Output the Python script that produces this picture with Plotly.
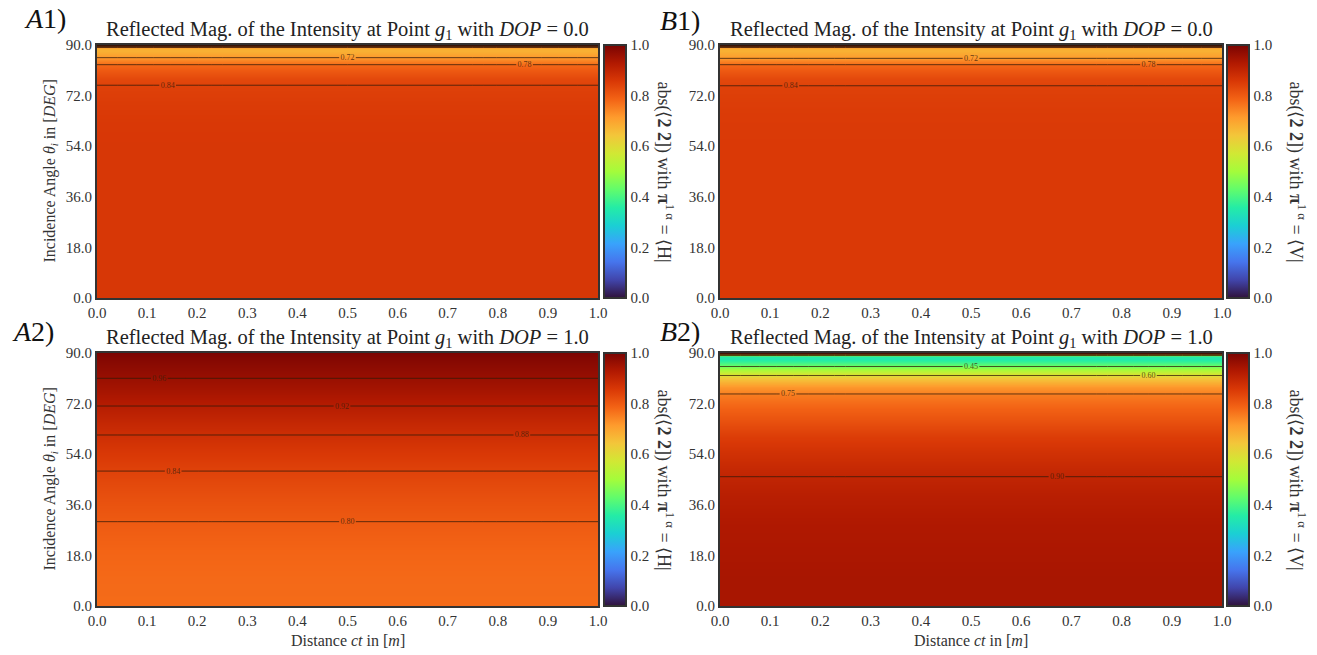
import plotly.graph_objects as go

# ---- data ----
distance = [0.0, 0.25, 0.5, 0.75, 1.0]
angle = [0, 10, 20, 30, 40, 48, 55, 60, 65, 70, 75, 78, 81, 83, 85, 86, 87, 88, 88.5, 89, 89.5, 89.8, 90]

a1_vals = [0.86, 0.86, 0.86, 0.86, 0.86, 0.86, 0.86, 0.858, 0.855, 0.85, 0.843, 0.83, 0.80,
           0.78, 0.73, 0.71, 0.69, 0.68, 0.68, 0.70, 0.80, 0.92, 1.0]
b1_vals = [0.855, 0.855, 0.855, 0.855, 0.855, 0.855, 0.855, 0.854, 0.852, 0.848, 0.842, 0.83, 0.80,
           0.78, 0.725, 0.705, 0.69, 0.68, 0.68, 0.70, 0.80, 0.92, 1.0]
a2_vals = [0.775, 0.778, 0.785, 0.80, 0.82, 0.84, 0.86, 0.877, 0.895, 0.915, 0.937, 0.948, 0.96,
           0.968, 0.975, 0.979, 0.983, 0.987, 0.989, 0.992, 0.995, 0.998, 1.0]
b2_vals = [0.94, 0.94, 0.935, 0.93, 0.915, 0.895, 0.87, 0.85, 0.82, 0.79, 0.755, 0.72, 0.64,
           0.56, 0.46, 0.41, 0.37, 0.35, 0.35, 0.40, 0.70, 0.92, 1.0]

panels = [
    # name, values, dop, bra, contour (start, end, size)
    ("A1", a1_vals, "0.0", "H", (0.72, 0.96, 0.06)),
    ("B1", b1_vals, "0.0", "V", (0.72, 0.96, 0.06)),
    ("A2", a2_vals, "1.0", "H", (0.80, 0.96, 0.04)),
    ("B2", b2_vals, "1.0", "V", (0.45, 0.90, 0.15)),
]

x_ticks = [0.0, 0.1, 0.2, 0.3, 0.4, 0.5, 0.6, 0.7, 0.8, 0.9, 1.0]
y_ticks = [0.0, 18.0, 36.0, 54.0, 72.0, 90.0]
cbar_ticks = [0.0, 0.2, 0.4, 0.6, 0.8, 1.0]

# ---- layout geometry (paper fractions) ----
W, H = 1317, 655
xdoms = {"A": (97 / W, 598 / W), "B": (720 / W, 1222 / W)}
ydoms = {"1": (1 - 298 / H, 1 - 45 / H), "2": (1 - 606 / H, 1 - 353 / H)}
cbar_x = {"A": 604 / W, "B": 1227 / W}
cbar_label_x = {"A": 665 / W, "B": 1297 / W}
panel_label_pos = {"A1": (22, 19), "B1": (658, 20), "A2": (10, 331), "B2": (658, 331)}

FONT = "Liberation Serif"
fig = go.Figure()
annotations = []

for i, (name, vals, dop, bra, (cs, ce, csz)) in enumerate(panels):
    col, row = name[0], name[1]
    ax = "" if i == 0 else str(i + 1)
    xref, yref = "x" + ax, "y" + ax
    z = [[v] * len(distance) for v in vals]
    y0, y1 = ydoms[row]
    x0, x1 = xdoms[col]
    fig.add_trace(go.Heatmap(
        x=distance, y=angle, z=z, zmin=0, zmax=1, colorscale="Turbo", zsmooth="best",
        xaxis=xref, yaxis=yref, hoverinfo="skip",
        colorbar=dict(x=cbar_x[col], xanchor="left", y=(y0 + y1) / 2, yanchor="middle",
                      len=(y1 - y0), lenmode="fraction", thickness=22, thicknessmode="pixels",
                      outlinecolor="#333", outlinewidth=2, tickvals=cbar_ticks,
                      tickformat=".1f", ticks="", ticklabelposition="outside",
                      tickfont=dict(family=FONT, size=15, color="#333"), xpad=0, ypad=0),
    ))
    fig.add_trace(go.Contour(
        x=distance, y=angle, z=z, xaxis=xref, yaxis=yref, showscale=False,
        contours=dict(coloring="none", start=cs, end=ce, size=csz, showlabels=True,
                      labelformat=".2f", labelfont=dict(family=FONT, size=8, color="rgba(60,30,10,0.8)")),
        line=dict(color="rgba(50,25,10,0.75)", width=1), hoverinfo="skip",
    ))
    xa = dict(domain=list(xdoms[col]), range=[0, 1], tickvals=x_ticks, tickformat=".1f",
              showgrid=False, zeroline=False, showline=True, linecolor="#333", linewidth=2,
              mirror=True, ticks="", tickfont=dict(family=FONT, size=15, color="#333"),
              anchor=yref, automargin=False)
    ya = dict(domain=list(ydoms[row]), range=[0, 90], tickvals=y_ticks, tickformat=".1f",
              showgrid=False, zeroline=False, showline=True, linecolor="#333", linewidth=2,
              mirror=True, ticks="", tickfont=dict(family=FONT, size=15, color="#333"),
              anchor=xref, automargin=False)
    fig.layout["xaxis" + ax] = xa
    fig.layout["yaxis" + ax] = ya

    if row == "2":
        annotations.append(dict(
            text="Distance <i>ct</i> in [<i>m</i>]", x=(x0 + x1) / 2, y=1 - 640 / H,
            xref="paper", yref="paper", xanchor="center", yanchor="middle", showarrow=False,
            font=dict(family=FONT, size=16, color="#333")))
    if col == "A":
        annotations.append(dict(
            text="Incidence Angle <i>θ<sub>i</sub></i> in [<i>DEG</i>]", x=50 / W, y=(y0 + y1) / 2,
            xref="paper", yref="paper", xanchor="center", yanchor="middle", textangle=-90,
            showarrow=False, font=dict(family=FONT, size=16, color="#333")))

    annotations.append(dict(
        text=f"Reflected Mag. of the Intensity at Point <i>g</i><sub>1</sub> with <i>DOP</i> = {dop}",
        x=(x0 + x1) / 2, y=y1, xref="paper", yref="paper", xanchor="center", yanchor="bottom",
        yshift=0, showarrow=False, font=dict(family=FONT, size=20.5, color="#222")))
    lx, ly = panel_label_pos[name]
    annotations.append(dict(
        text=f"<i>{col}</i>{row})", x=lx / W, y=1 - ly / H, xref="paper", yref="paper",
        xanchor="left", yanchor="middle", showarrow=False,
        font=dict(family=FONT, size=28, color="#111")))
    annotations.append(dict(
        text=f"abs(⟨<b>2 2</b>]) with <b>π</b><sup>1 α</sup> = ⟨{bra}|",
        x=cbar_label_x[col], y=(y0 + y1) / 2, xref="paper", yref="paper",
        xanchor="center", yanchor="middle", textangle=90, showarrow=False,
        font=dict(family=FONT, size=18, color="#333")))

fig.update_layout(
    width=W, height=H, margin=dict(l=0, r=0, t=0, b=0, autoexpand=False),
    paper_bgcolor="white", plot_bgcolor="white", showlegend=False,
    annotations=annotations, font=dict(family=FONT),
)
fig.write_html("out.html", config={"displayModeBar": False},
               post_script="document.body.style.margin='0';document.body.style.overflow='hidden';")
